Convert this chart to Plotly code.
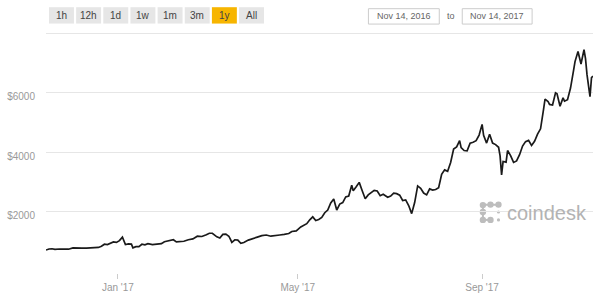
import plotly.graph_objects as go

dates = [
    "2016-11-14", "2016-11-16", "2016-11-18", "2016-11-20", "2016-11-23", "2016-11-26", "2016-11-29",
    "2016-12-02", "2016-12-05", "2016-12-08", "2016-12-11", "2016-12-14", "2016-12-17", "2016-12-19",
    "2016-12-21", "2016-12-23", "2016-12-25", "2016-12-27", "2016-12-29", "2016-12-31",
    "2017-01-02", "2017-01-04", "2017-01-05", "2017-01-06", "2017-01-08", "2017-01-10", "2017-01-11",
    "2017-01-13", "2017-01-15", "2017-01-17", "2017-01-19", "2017-01-21", "2017-01-24", "2017-01-27",
    "2017-01-30", "2017-02-01", "2017-02-04", "2017-02-07", "2017-02-09", "2017-02-11", "2017-02-14",
    "2017-02-17", "2017-02-20", "2017-02-23", "2017-02-26", "2017-03-01", "2017-03-03", "2017-03-05",
    "2017-03-08", "2017-03-10", "2017-03-12", "2017-03-14", "2017-03-16", "2017-03-17", "2017-03-18",
    "2017-03-20", "2017-03-22", "2017-03-24", "2017-03-26", "2017-03-29", "2017-04-01", "2017-04-04",
    "2017-04-07", "2017-04-10", "2017-04-13", "2017-04-16", "2017-04-19", "2017-04-22", "2017-04-25",
    "2017-04-27", "2017-04-30", "2017-05-03", "2017-05-05", "2017-05-07", "2017-05-09", "2017-05-11",
    "2017-05-13", "2017-05-15", "2017-05-17", "2017-05-19", "2017-05-21", "2017-05-23", "2017-05-25",
    "2017-05-26", "2017-05-27", "2017-05-29", "2017-05-31", "2017-06-02", "2017-06-04", "2017-06-06",
    "2017-06-07", "2017-06-09", "2017-06-11", "2017-06-13", "2017-06-15", "2017-06-17", "2017-06-19",
    "2017-06-21", "2017-06-23", "2017-06-25", "2017-06-27", "2017-06-30", "2017-07-02", "2017-07-04",
    "2017-07-06", "2017-07-08", "2017-07-10", "2017-07-12", "2017-07-14", "2017-07-16", "2017-07-18",
    "2017-07-20", "2017-07-22", "2017-07-24", "2017-07-26", "2017-07-28", "2017-07-30", "2017-08-01",
    "2017-08-03", "2017-08-05", "2017-08-07", "2017-08-09", "2017-08-11", "2017-08-13", "2017-08-15",
    "2017-08-17", "2017-08-18", "2017-08-20", "2017-08-22", "2017-08-24", "2017-08-26", "2017-08-28",
    "2017-08-30", "2017-09-01", "2017-09-02", "2017-09-04", "2017-09-06", "2017-09-08", "2017-09-10",
    "2017-09-12", "2017-09-13", "2017-09-14", "2017-09-15", "2017-09-17", "2017-09-18", "2017-09-20",
    "2017-09-22", "2017-09-24", "2017-09-26", "2017-09-28", "2017-09-30", "2017-10-02", "2017-10-04",
    "2017-10-06", "2017-10-08", "2017-10-10", "2017-10-12", "2017-10-13", "2017-10-15", "2017-10-16",
    "2017-10-18", "2017-10-20", "2017-10-21", "2017-10-23", "2017-10-25", "2017-10-26", "2017-10-28",
    "2017-10-30", "2017-11-01", "2017-11-02", "2017-11-04", "2017-11-06", "2017-11-08", "2017-11-09",
    "2017-11-10", "2017-11-12", "2017-11-13", "2017-11-14",
]

prices = [
    705, 740, 748, 730, 740, 735, 733,
    775, 760, 768, 770, 780, 790, 792,
    830, 900, 890, 935, 975, 960,
    1020, 1140, 990, 890, 910, 905, 780,
    820, 820, 900, 880, 920, 890, 915,
    920, 985, 1030, 1050, 980, 995, 1000,
    1050, 1080, 1170, 1160, 1220, 1270, 1270,
    1150, 1110, 1230, 1240, 1170, 1070, 960,
    1050, 1040, 930, 960, 1040, 1080, 1140,
    1190, 1210, 1170, 1180, 1210, 1230, 1260,
    1330, 1350, 1480, 1530, 1590, 1720, 1820,
    1700, 1730, 1800, 1960, 2050, 2290, 2420,
    2180, 2050, 2250, 2300, 2490, 2520, 2880,
    2700, 2830, 2980, 2700, 2430, 2560, 2620,
    2710, 2690, 2530, 2580, 2480, 2520, 2620,
    2600, 2550, 2370, 2390, 2200, 1930, 2300,
    2860, 2780, 2620, 2560, 2760, 2720, 2740,
    2800, 3250, 3400, 3350, 3650, 4100, 4170,
    4380, 4150, 4050, 4040, 4300, 4330, 4380,
    4570, 4930, 4560, 4300, 4600, 4300, 4250,
    4160, 3870, 3230, 3680, 3660, 4050, 3880,
    3650, 3700, 3910, 4200, 4350, 4390, 4220,
    4360, 4600, 4780, 5430, 5780, 5700, 5600,
    5580, 5990, 5960, 5540, 5820, 5710, 5760,
    6150, 6740, 7040, 7380, 6960, 7440, 7140,
    6600, 5860, 6500, 6550,
]

y_tick_values = [2000, 4000, 6000, 8000]
y_tick_labels = ["$2000", "$4000", "$6000", ""]
x_tick_values = ["2017-01-01", "2017-05-01", "2017-09-01"]
x_tick_labels = ["Jan '17", "May '17", "Sep '17"]
range_buttons = ["1h", "12h", "1d", "1w", "1m", "3m", "1y", "All"]
active_button = "1y"
date_from = "Nov 14, 2016"
date_to = "Nov 14, 2017"
brand = "coindesk"

FONT = "Liberation Sans, Arial, sans-serif"
L, R, T, B = 45, 7, 32, 25
W, H = 600, 300
PW, PH = W - L - R, H - T - B


def px(x):
    return (x - L) / PW


def py(y):
    return (H - B - y) / PH


fig = go.Figure()
fig.add_trace(go.Scatter(
    x=dates, y=prices, mode="lines",
    line=dict(color="#1a1a1a", width=1.7),
    hoverinfo="skip", showlegend=False,
))

shapes = []
annotations = []

# range selector buttons
bx0, bw, pitch = 48, 25, 27.2
for i, lab in enumerate(range_buttons):
    x0 = bx0 + i * pitch
    active = lab == active_button
    shapes.append(dict(type="rect", xref="paper", yref="paper",
                       x0=px(x0), x1=px(x0 + bw), y0=py(23.5), y1=py(7),
                       fillcolor="#f7b500" if active else "#e6e6e6",
                       line=dict(width=0), layer="above"))
    annotations.append(dict(xref="paper", yref="paper", x=px(x0 + bw / 2), y=py(15.5),
                            text=lab, showarrow=False, xanchor="center", yanchor="middle",
                            font=dict(family=FONT, size=10, color="#444")))

# date boxes
for (x0, x1, lab) in [(368, 439, date_from), (462, 532, date_to)]:
    shapes.append(dict(type="rect", xref="paper", yref="paper",
                       x0=px(x0), x1=px(x1), y0=py(24), y1=py(8.5),
                       fillcolor="white", line=dict(color="#cccccc", width=1)))
    annotations.append(dict(xref="paper", yref="paper", x=px((x0 + x1) / 2), y=py(16.2),
                            text=lab, showarrow=False, xanchor="center", yanchor="middle",
                            font=dict(family=FONT, size=9, color="#666")))
annotations.append(dict(xref="paper", yref="paper", x=px(451), y=py(16.2),
                        text="to", showarrow=False, xanchor="center", yanchor="middle",
                        font=dict(family=FONT, size=9, color="#666")))

# coindesk watermark
dots = [(482.7, 206.5, 3.2), (490.3, 206.0, 3.2), (498.3, 206.0, 3.2),
        (482.7, 213.5, 3.2), (482.7, 221.5, 3.2), (490.3, 221.5, 3.2),
        (498.3, 213.5, 1.6), (498.3, 221.5, 1.6)]
for (cx, cy, r) in dots:
    shapes.append(dict(type="circle", xref="paper", yref="paper",
                       x0=px(cx - r), x1=px(cx + r), y0=py(cy + r), y1=py(cy - r),
                       fillcolor="#bdbdbd", line=dict(width=0), layer="below"))
shapes.append(dict(type="line", xref="paper", yref="paper",
                   x0=px(482.7), x1=px(482.7), y0=py(221.5), y1=py(206.5),
                   line=dict(color="#bdbdbd", width=2), layer="below"))
shapes.append(dict(type="line", xref="paper", yref="paper",
                   x0=px(482.7), x1=px(498.3), y0=py(206.2), y1=py(206.2),
                   line=dict(color="#bdbdbd", width=2), layer="below"))
shapes.append(dict(type="line", xref="paper", yref="paper",
                   x0=px(482.7), x1=px(490.3), y0=py(221.5), y1=py(221.5),
                   line=dict(color="#bdbdbd", width=2), layer="below"))
annotations.append(dict(xref="paper", yref="paper", x=px(505), y=py(214),
                        text=brand, showarrow=False, xanchor="left", yanchor="middle",
                        font=dict(family=FONT, size=20, color="#b3b3b3")))

fig.update_layout(
    width=W, height=H,
    margin=dict(l=L, r=R, t=T, b=B, pad=0),
    paper_bgcolor="white", plot_bgcolor="white",
    shapes=shapes, annotations=annotations,
    xaxis=dict(
        type="date", range=["2016-11-14", "2017-11-14"],
        tickvals=x_tick_values, ticktext=x_tick_labels,
        ticks="outside", ticklen=5, tickcolor="#cccccc", tickwidth=1,
        showgrid=False, zeroline=False, showline=False,
        tickfont=dict(family=FONT, size=10, color="#999"),
    ),
    yaxis=dict(
        range=[-67, 8035],
        tickvals=y_tick_values, ticktext=y_tick_labels,
        showgrid=True, gridcolor="#e6e6e6", gridwidth=1,
        zeroline=False, showline=False, ticks="",
        ticklabelstandoff=10, ticklabelshift=4,
        tickfont=dict(family=FONT, size=10, color="#999"),
    ),
)

fig.write_html("out.html")
